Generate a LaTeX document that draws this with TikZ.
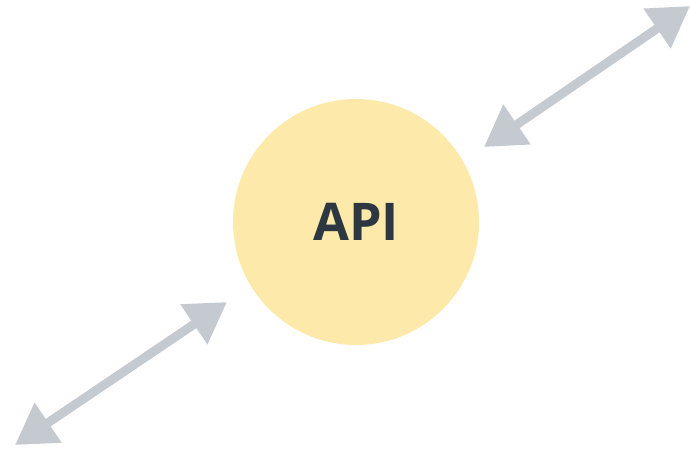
\documentclass[tikz,border=0pt]{standalone}
\usepackage{fontspec}
\setsansfont{Open Sans}
\usepackage{tikz}
\usetikzlibrary{arrows.meta,positioning}
\definecolor{apifill}{HTML}{FDE9A9}
\definecolor{apitext}{HTML}{2D3742}
\definecolor{linkgray}{HTML}{C5CAD1}

\begin{document}
\begin{tikzpicture}[x=1pt, y=-1pt,
    link/.style={{Triangle[length=40pt,width=46pt]}-{Triangle[length=40pt,width=46pt]}, line width=9pt, draw=linkgray}]
    \useasboundingbox (0,0) rectangle (690,448);

      % Service
      \node[circle, fill=apifill, minimum size=246pt, inner sep=0pt,
            font=\sffamily\bfseries\fontsize{52}{52}\selectfont, text=apitext] (api) at (356,222) {API};

      % Link ends
      \coordinate (outer1) at (690,6);
      \coordinate (inner1) at (484,147);
      \coordinate (inner2) at (227,302);
      \coordinate (outer2) at (15,445);

      % Links
      \draw[link] (inner1) -- (outer1);
      \draw[link] (outer2) -- (inner2);

    \end{tikzpicture}
\end{document}
